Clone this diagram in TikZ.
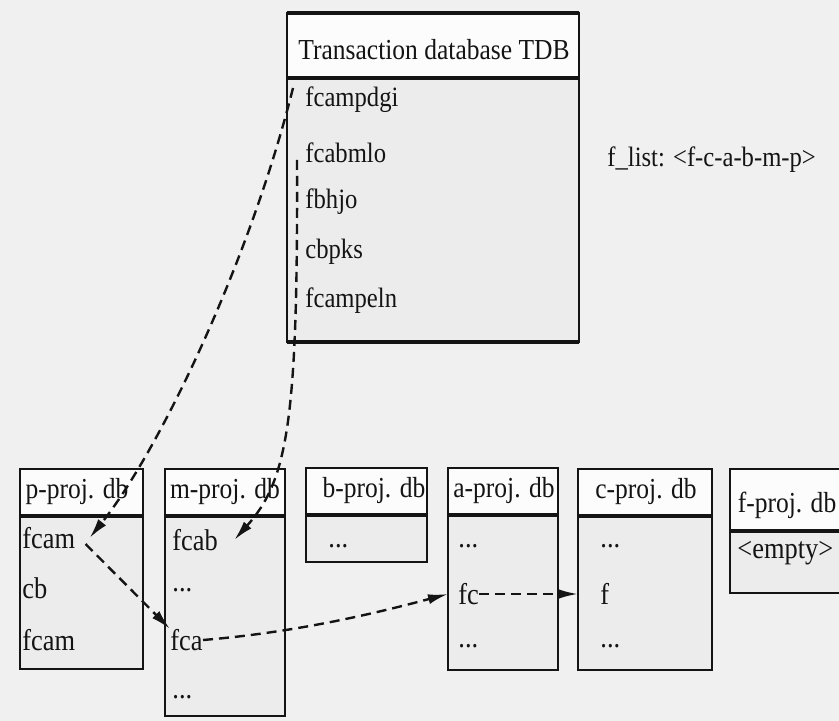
\documentclass[tikz,border=0pt]{standalone}
\usepackage{fontspec}
\setmainfont{Liberation Serif}[FakeStretch=0.88]
\usetikzlibrary{arrows.meta, calc}
\definecolor{BG}{RGB}{240,240,240}
\definecolor{BD}{RGB}{236,236,236}
\definecolor{HD}{RGB}{252,252,252}
\definecolor{DG}{RGB}{20,20,20}

\begin{document}
\begin{tikzpicture}[x=0.5pt, y=-0.5pt,
  hd/.style={font=\fontsize{14.5}{16}\selectfont, text=DG, inner sep=0pt},
  it/.style={font=\fontsize{15}{16}\selectfont, text=DG, inner sep=0pt, anchor=west},
  tdbit/.style={font=\fontsize{14}{15}\selectfont, text=DG, inner sep=0pt, anchor=west},
  frame/.style={draw=DG, line width=1.2pt},
  sep/.style={draw=DG, line width=1.8pt},
  link/.style={draw=DG, line width=1.2pt, dash pattern=on 5pt off 3pt,
    -{Latex[length=10pt,width=5pt]}}]
\useasboundingbox (0,0) rectangle (839,721);
\clip (0,0) rectangle (839,721);
\fill[BG] (0,0) rectangle (839,721);

% Transaction database box
\fill[HD] (287,13) rectangle (579,78);
\fill[BD] (287,78) rectangle (579,342);
\draw[frame] (287,13) rectangle (579,342);
\draw[sep] (287,13) -- (579,13);
\draw[sep] (287,78) -- (579,78);
\draw[sep] (287,342) -- (579,342);

% Projected databases
\fill[HD] (20,469) rectangle (143,516);
\fill[BD] (20,516) rectangle (143,669);
\draw[frame] (20,469) rectangle (143,669);
\draw[sep] (20,516) -- (143,516);

\fill[HD] (165,469) rectangle (285,516);
\fill[BD] (165,516) rectangle (285,716);
\draw[frame] (165,469) rectangle (285,716);
\draw[sep] (165,516) -- (285,516);

\fill[HD] (306,468) rectangle (427,515);
\fill[BD] (306,515) rectangle (427,562);
\draw[frame] (306,468) rectangle (427,562);
\draw[sep] (306,515) -- (427,515);

\fill[HD] (448,468) rectangle (558,515);
\fill[BD] (448,515) rectangle (558,670);
\draw[frame] (448,468) rectangle (558,670);
\draw[sep] (448,515) -- (558,515);

\fill[HD] (578,469) rectangle (712,516);
\fill[BD] (578,516) rectangle (712,670);
\draw[frame] (578,469) rectangle (712,670);
\draw[sep] (578,516) -- (712,516);

\fill[HD] (730,469) rectangle (845,531);
\fill[BD] (730,531) rectangle (845,593);
\draw[frame] (730,469) rectangle (845,593);
\draw[sep] (730,531) -- (845,531);

% Labels inside
\node[font=\fontsize{14.5}{16}\selectfont, text=DG, inner sep=0pt] (ttl) at (434,50) {Transaction database TDB};
\node[tdbit] (t1) at (305,100) {fcampdgi};
\node[tdbit] (t2) at (305,153) {fcabmlo};
\node[tdbit] (t3) at (305,202) {fbhjo};
\node[tdbit] (t4) at (305,252) {cbpks};
\node[tdbit] (t5) at (305,301) {fcampeln};

\node[tdbit] (flist) at (607,160) {f\_list: <f-c-a-b-m-p>};

\node[hd] (ph) at (77,492) {p-proj. db};
\node[it] (p1) at (22,538) {fcam};
\node[it] (p2) at (22,588) {cb};
\node[it] (p3) at (22,640) {fcam};

\node[hd] (mh) at (225,492) {m-proj. db};
\node[it] (m1) at (172,540) {fcab};
\node[it] (m2) at (172,590) {...};
\node[it] (m3) at (170,640) {fca};
\node[it] (m4) at (172,697) {...};

\node[hd] (bh) at (374,491) {b-proj. db};
\node[it] (b1) at (328,546) {...};

\node[hd] (ah) at (504,491) {a-proj. db};
\node[it] (a1) at (458,546) {...};
\node[it] (a2) at (458,594) {fc};
\node[it] (a3) at (458,646) {...};

\node[hd] (ch) at (646,492) {c-proj. db};
\node[it] (c1) at (600,546) {...};
\node[it] (c2) at (600,594) {f};
\node[it] (c3) at (600,646) {...};

\node[hd] (fh) at (787,505) {f-proj. db};
\node[it] (f1) at (737,553) {<empty>};

% Arrows
\coordinate (d0) at (297,160);
\coordinate (aL) at (448,594);
\coordinate (cL) at (578,594);
\draw[link] ([shift={(-12,-12)}]t1.west) .. controls (250,260) and (160,450) .. ([xshift=7pt]p1.east);
\draw[link] (d0) .. controls (298,420) and (288,480) .. ([xshift=8pt]m1.east);
\draw[link] ([shift={(10,6)}]p1.east) -- (m3.north west);
\draw[link] (m3.east) .. controls (300,632) and (380,612) .. (aL);
\draw[link] (a2.east) -- (cL);
\end{tikzpicture}
\end{document}
